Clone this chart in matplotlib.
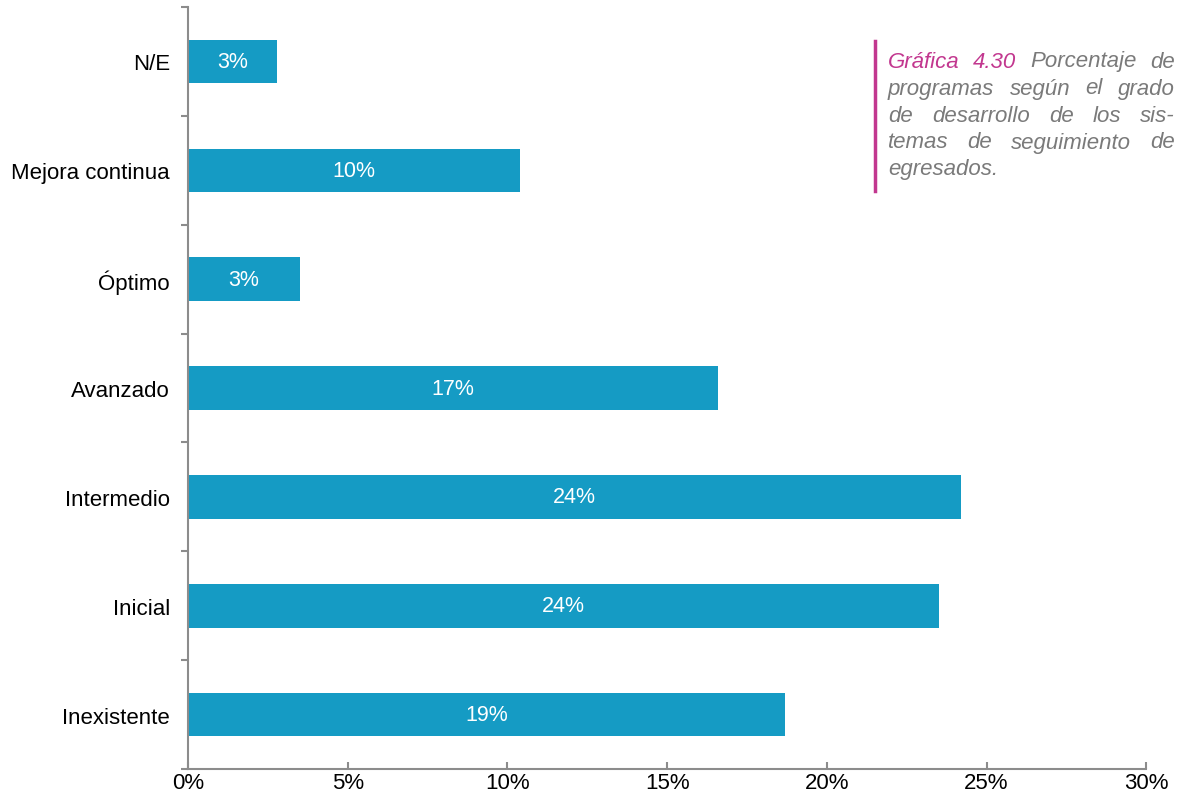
import matplotlib
matplotlib.use('Agg')
import matplotlib.pyplot as plt
import numpy as np

plt.rcParams['font.family'] = ['Liberation Sans', 'DejaVu Sans']

categorias = ['Inexistente', 'Inicial', 'Intermedio', 'Avanzado', 'Óptimo', 'Mejora continua', 'N/E']
valores = [18.7, 23.5, 24.2, 16.6, 3.5, 10.4, 2.8]
etiquetas = ['19%', '24%', '24%', '17%', '3%', '10%', '3%']
xticks = [0, 5, 10, 15, 20, 25, 30]

color_barra = '#159bc4'
gris = '#8c8c8c'
magenta = '#c2378f'
gris_texto = '#7a7a7a'

fig = plt.figure(figsize=(11.86, 8.03), dpi=100)
ax = fig.add_axes([0.1585, 0.041, 0.808, 0.949])

y = np.arange(len(categorias))
ax.barh(y, valores, height=0.4, color=color_barra)
for yi, v, t in zip(y, valores, etiquetas):
    ax.text(v / 2, yi, t, ha='center', va='center', color='white', fontsize=15.5)

ax.set_xlim(0, 30)
ax.set_ylim(-0.5, len(categorias) - 0.5)
ax.set_xticks(xticks)
ax.set_xticklabels([f'{t}%' for t in xticks], fontsize=16)
ax.set_yticks(y)
ax.set_yticklabels(categorias, fontsize=16)
ax.set_yticks(np.arange(-0.5, len(categorias)), minor=True)
ax.tick_params(axis='y', which='major', length=0, pad=13)
ax.tick_params(axis='y', which='minor', length=5, color=gris, direction='out', width=1.5)
ax.tick_params(axis='x', which='major', length=5, color=gris, direction='in', width=1.5, pad=2)
for s in ['top', 'right']:
    ax.spines[s].set_visible(False)
for s in ['left', 'bottom']:
    ax.spines[s].set_color(gris)
    ax.spines[s].set_linewidth(1.5)

# leyenda de la gráfica, justificada
lineas = [
    [('Gráfica', magenta), ('4.30', magenta), ('Porcentaje', gris_texto), ('de', gris_texto)],
    [('programas', gris_texto), ('según', gris_texto), ('el', gris_texto), ('grado', gris_texto)],
    [('de', gris_texto), ('desarrollo', gris_texto), ('de', gris_texto), ('los', gris_texto), ('sis-', gris_texto)],
    [('temas', gris_texto), ('de', gris_texto), ('seguimiento', gris_texto), ('de', gris_texto)],
    [('egresados.', gris_texto)],
]
x0, x1 = 888 / 1186, 1175 / 1186
y_lin = [62, 89, 116, 143, 170]
fig.canvas.draw()
r = fig.canvas.get_renderer()
fw = fig.bbox.width
for i, (linea, yp) in enumerate(zip(lineas, y_lin)):
    yf = 1 - yp / 803
    textos = [fig.text(0, yf, w, color=c, fontsize=16, style='italic', va='center') for w, c in linea]
    anchos = [t.get_window_extent(r).width / fw for t in textos]
    if i < len(lineas) - 1:
        hueco = (x1 - x0 - sum(anchos)) / (len(textos) - 1)
    else:
        hueco = 0.005
    x = x0
    for t, a in zip(textos, anchos):
        t.set_x(x)
        x += a + hueco
fig.add_artist(plt.Line2D([875 / 1186, 875 / 1186], [1 - 42 / 803, 1 - 192 / 803], color=magenta, lw=2.5))

fig.savefig('out.png', dpi=100)
